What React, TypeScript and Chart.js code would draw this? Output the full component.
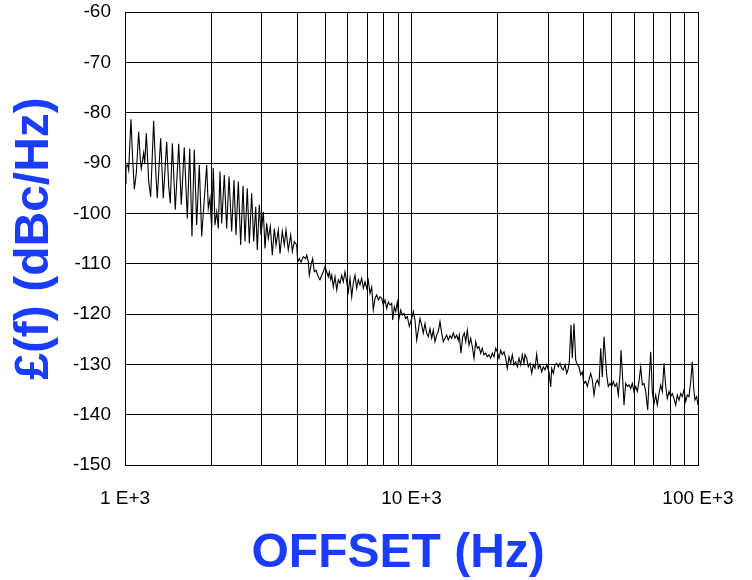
import React, { useEffect, useRef } from "react";
import { Chart, registerables } from "chart.js";

Chart.register(...registerables);

// Offset frequency (Hz) of each trace sample
const offsetHz = [
  1000, 1008, 1022, 1030, 1049, 1064, 1078, 1095, 1116, 1131, 1140, 1162, 1172, 1187, 1210, 1229,
  1259, 1283, 1296, 1332, 1360, 1398, 1421, 1439, 1463, 1498, 1540, 1572, 1610, 1650, 1682, 1713,
  1745, 1779, 1817, 1852,
  1928, 1953, 1980, 2007, 2033, 2061, 2090, 2117, 2146, 2175, 2221, 2264, 2307, 2357, 2401, 2440,
  2486, 2534, 2582, 2623, 2672, 2716, 2768, 2813, 2859, 2896, 2943, 2983, 3039, 3081, 3123, 3164,
  3215, 3267, 3320, 3366, 3428, 3476, 3540, 3598, 3647, 3715, 3788, 3837, 3899,
  3975, 4007, 4059, 4115, 4191, 4273, 4307, 4363, 4399, 4459, 4520, 4579, 4642, 4728, 4793, 4859,
  4922, 4990, 5058, 5124, 5165, 5224, 5266, 5334, 5407, 5482, 5552, 5629, 5707, 5780, 5860, 5941,
  6017, 6100, 6184, 6264, 6350, 6438, 6521, 6611, 6701, 6789,
  6882, 6976, 7067, 7164, 7263, 7356, 7458, 7560, 7658, 7763, 7870, 7972, 8082, 8193, 8299, 8413,
  8529, 8598, 8709, 8807, 8922, 9044, 9169, 9287, 9415, 9545, 9668, 9825, 10016, 10146, 10285, 10427,
  10562, 10707, 10854, 10995, 11145, 11298, 11445, 11602, 11762, 11914, 12078, 12244, 12402, 12573,
  12746, 12911,
  13089, 13270, 13441, 13627, 13814, 13993, 14185, 14380, 14566, 14683, 14886, 15091, 15286, 15460,
  15659, 15875, 16093, 16301, 16526, 16752, 16969, 17202, 17439, 17665, 17908, 18155, 18389, 18644,
  18899, 19144, 19408, 19674, 19929, 20203, 20481, 20746, 21030, 21320, 21597, 21893, 22195, 22481,
  22791, 23103, 23403, 23726, 24052, 24363, 24698,
  24898, 25240, 25567, 25918, 26275, 26616, 26981, 27352, 27706, 28088, 28474, 28844, 29241, 29641,
  30195, 30610, 30858, 31257, 31686, 32123, 32540, 32986, 33438, 33871, 34338, 34812, 35260, 35545,
  36034, 36414, 36914, 37422, 37906, 38427, 38958, 39460, 40000, 40554, 41080, 41644, 42216, 42762,
  43351, 43946, 44516, 45128, 45749, 46341, 46978,
  48008, 48630, 49299, 49978, 50625, 51320, 52025, 52700, 53425, 53857, 54423, 55174, 55929, 56654,
  57432, 58225, 58978, 59788, 60611, 61398, 62238, 63096, 63912, 64793, 65683, 66743, 67450, 68375,
  69261, 70213, 71180, 72100, 73094, 74102, 75057, 76091, 77137, 78134, 79210, 80299, 81339, 82456,
  83592, 84672, 85840, 87020, 88146, 89358, 90589, 91760, 93024, 94302, 95520, 96603, 97618, 98956,
  100000,
];

// Single-sideband phase noise L(f) in dBc/Hz for each sample
const phaseNoise = [
  -94.0, -90.7, -90.4, -91.4, -81.3, -89.4, -95.2, -92.0, -83.8, -89.4, -91.1, -88.0, -90.1, -84.1, -93.7, -96.7,
  -81.6, -92.7, -97.0, -85.1, -97.0, -85.8, -94.7, -98.0, -86.1, -99.3, -86.2, -98.3, -86.9, -101.0, -87.1, -104.6,
  -87.3, -102.3, -90.4, -104.6,
  -90.4, -99.0, -97.0, -103.0, -91.0, -102.3, -99.7, -103.0, -91.7, -102.0, -92.4, -103.0, -92.7, -103.6, -93.4, -104.3,
  -93.7, -106.3, -94.5, -105.6, -95.0, -106.0, -96.0, -105.6, -98.7, -107.3, -98.3, -104.3, -99.7, -107.0, -102.0, -105.0,
  -102.6, -108.3, -103.0, -106.3, -103.3, -108.0, -103.6, -106.3, -103.3, -107.3, -104.3, -107.6, -105.6,
  -106.3, -109.7, -109.0, -109.7, -108.6, -109.0, -108.3, -109.6, -112.3, -110.3, -109.0, -111.6, -111.3, -112.6, -113.2, -112.3,
  -111.6, -110.6, -111.6, -112.6, -111.6, -113.2, -112.3, -114.6, -112.6, -115.2, -113.2, -113.9, -112.3, -113.6, -111.6, -113.6,
  -115.6, -112.9, -116.6, -113.9, -112.3, -114.9, -113.2, -114.2, -112.9, -114.9,
  -113.6, -114.9, -113.3, -115.9, -114.6, -119.2, -116.9, -116.2, -117.2, -116.6, -116.9, -118.2, -117.2, -118.9, -117.6, -118.2,
  -117.9, -121.2, -118.6, -119.5, -117.6, -120.9, -119.2, -120.2, -119.9, -120.9, -120.5, -122.5, -120.9, -119.5, -121.2, -125.2,
  -123.2, -120.9, -122.2, -123.8, -121.9, -123.8, -124.5, -122.9, -124.8, -123.2, -125.5, -124.2, -123.5, -121.5,
  -123.8, -125.5,
  -124.8, -124.2, -125.2, -124.3, -124.8, -123.8, -124.8, -124.2, -125.2, -124.2, -127.8, -124.5, -123.8, -125.5,
  -123.2, -126.2, -124.8, -126.5, -128.8, -125.5, -126.8, -126.5, -127.8, -126.8, -128.1, -127.8, -128.5, -128.1,
  -128.8, -127.8, -128.5, -126.8, -127.5, -128.8, -127.2, -128.1, -127.5, -128.8, -130.8, -128.5, -129.8, -128.1,
  -130.1, -129.5, -130.5, -128.8, -130.1, -128.1, -129.8,
  -128.1, -128.8, -130.5, -129.8, -131.8, -130.1, -130.8, -128.0, -130.8, -130.1, -131.5, -130.5, -131.1, -130.1,
  -131.5, -134.5, -130.8, -131.8, -130.1, -129.8, -130.5, -129.8, -130.8, -131.1, -130.1, -131.8, -130.8, -129.5,
  -122.2, -128.8, -121.9, -129.1, -130.1, -130.5, -132.1, -131.5, -133.8, -133.4, -134.4, -133.1, -131.8, -133.1,
  -136.1, -133.8, -133.1, -134.1, -126.8, -132.5, -124.5,
  -132.1, -134.4, -133.8, -134.4, -133.4, -134.4, -133.8, -136.1, -132.1, -127.2, -131.5, -138.1, -133.8, -134.4,
  -134.1, -134.8, -133.8, -135.4, -134.4, -135.4, -133.4, -130.5, -134.1, -133.8, -135.4, -139.1, -133.4, -127.5,
  -135.4, -137.8, -136.1, -138.1, -135.8, -134.1, -135.4, -129.8, -134.4, -136.8, -135.4, -136.4, -135.8, -136.8,
  -138.1, -136.1, -137.1, -135.8, -136.4, -135.1, -137.4, -136.1, -136.4, -133.4, -129.5, -134.8, -137.1, -136.4,
  -138.1,
];

// Axis definitions
const xMin = 1000;
const xMax = 100000;
const xDecadeStarts = [1000, 10000];
const xGridMantissas = [1, 2, 3, 4, 5, 6, 7, 8, 9];
const xLabelValues = [1000, 10000, 100000];
const xLabelTexts = ["1 E+3", "10 E+3", "100 E+3"];
const yMin = -150;
const yMax = -60;
const yStep = 10;
const xTitle = "OFFSET (Hz)\u00a0\u00a0";
const yTitle = "£(f) (dBc/Hz)";

function narrowFontAvailable(): boolean {
  const c = document.createElement("canvas").getContext("2d");
  if (!c) return false;
  const sample = "100 E+3 -150";
  c.font = "40px monospace";
  const base = c.measureText(sample).width;
  c.font = "40px 'Liberation Sans Narrow', monospace";
  const narrow = c.measureText(sample).width;
  return Math.abs(base - narrow) > 1;
}

export default function App() {
  const ref = useRef<HTMLCanvasElement>(null);

  useEffect(() => {
    if (!ref.current) return;
    Chart.defaults.font.family = "'Liberation Sans', Arial, sans-serif";
    const hasNarrow = narrowFontAvailable();
    const tickFont = hasNarrow
      ? { family: "'Liberation Sans Narrow', 'Liberation Sans', sans-serif", size: 22 }
      : { family: "'Liberation Sans', Arial, sans-serif", size: 19 };

    const gridTicks: number[] = [];
    xDecadeStarts.forEach((d) => xGridMantissas.forEach((m) => gridTicks.push(m * d)));
    gridTicks.push(xMax);

    const points = offsetHz.map((f, i) => ({ x: f, y: phaseNoise[i] }));

    const chart = new Chart(ref.current, {
      type: "line",
      data: {
        datasets: [
          {
            data: points,
            borderColor: "#000",
            borderWidth: 1.1,
            pointRadius: 0,
            fill: false,
            tension: 0,
          },
        ],
      },
      options: {
        responsive: false,
        animation: false,
        layout: { padding: { top: 12, right: 54, bottom: 0, left: 0 } },
        plugins: { legend: { display: false }, tooltip: { enabled: false } },
        scales: {
          x: {
            type: "logarithmic",
            min: xMin,
            max: xMax,
            afterBuildTicks: (s: any) => {
              s.ticks = gridTicks.map((v) => ({ value: v }));
            },
            afterFit: (s: any) => {
              s.height = 115;
              s.paddingLeft = 0;
              s.paddingRight = 0;
            },
            ticks: {
              autoSkip: false,
              maxRotation: 0,
              minRotation: 0,
              padding: hasNarrow ? 21 : 22,
              color: "#000",
              font: tickFont,
              callback: (v: any) => {
                const i = xLabelValues.indexOf(Number(v));
                return i >= 0 ? xLabelTexts[i] : "";
              },
            },
            grid: { color: "#000", lineWidth: 1, drawTicks: false },
            border: { color: "#000", width: 1 },
            title: {
              display: true,
              text: xTitle,
              color: "#1a3cff",
              font: { size: 48, weight: "bold", lineHeight: 1.1 },
              padding: { top: 0, bottom: 0 },
            },
          },
          y: {
            min: yMin,
            max: yMax,
            afterFit: (s: any) => {
              s.width = 125;
              s.paddingTop = 0;
              s.paddingBottom = 0;
            },
            ticks: { stepSize: yStep, padding: 14, color: "#000", font: tickFont },
            grid: { color: "#000", lineWidth: 1, drawTicks: false },
            border: { color: "#000", width: 1 },
            title: {
              display: true,
              text: yTitle,
              color: "#1a3cff",
              font: { size: 48, weight: "bold", lineHeight: 1.1 },
              padding: { top: 8, bottom: 0 },
            },
          },
        },
      },
    } as any);
    return () => chart.destroy();
  }, []);

  return (
    <div style={{ position: "fixed", left: 0, top: 0, width: 752, height: 580, background: "#fff" }}>
      <canvas ref={ref} width={752} height={580} style={{ display: "block" }} />
    </div>
  );
}
